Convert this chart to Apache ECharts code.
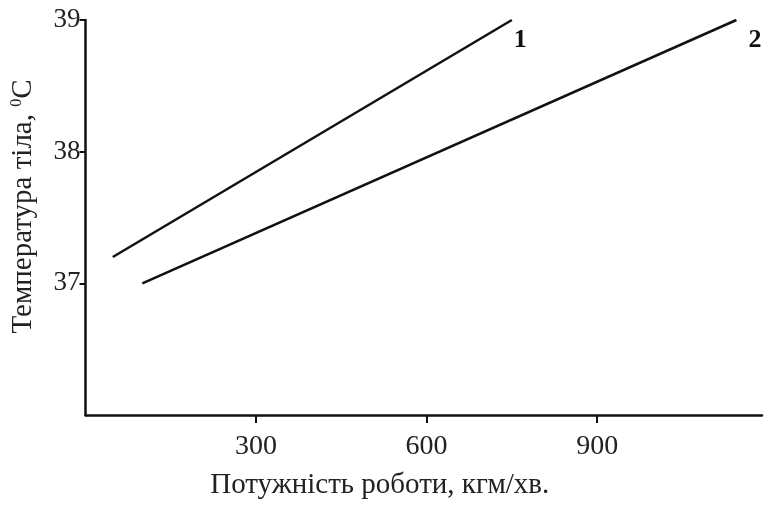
<!DOCTYPE html>
<html>
<head>
<meta charset="utf-8">
<script src="https://cdn.jsdelivr.net/npm/echarts@6/dist/echarts.min.js"></script>
<style>
html,body{margin:0;padding:0;background:#fff;}
#c{width:764px;height:505px;}
</style>
</head>
<body>
<div id="c"></div>
<script>
// Data
var line1X = [48, 750];
var line1Y = [37.2, 39.0];
var line2X = [100, 1145];
var line2Y = [37.0, 39.0];
var seriesNames = ['1', '2'];
var xTicks = [300, 600, 900];
var yTicks = [37, 38, 39];
var xTitle = 'Потужність роботи, кгм/хв.';
var yTitle = 'Температура тіла, ';

function pairs(xs, ys) { return xs.map(function (x, i) { return [x, ys[i]]; }); }

var font = 'Liberation Serif';
var chart = echarts.init(document.getElementById('c'));

function endLabel(name, dx) {
  return {
    show: true,
    formatter: name,
    fontFamily: font,
    fontWeight: 'bold',
    fontSize: 26,
    color: '#111',
    distance: 4,
    offset: [dx, 20]
  };
}

chart.setOption({
  animation: false,
  backgroundColor: '#fff',
  grid: { left: 85.5, right: 2, top: 20, bottom: 88, containLabel: false },
  xAxis: {
    type: 'value', min: 0, max: 1190,
    axisLine: { show: true, lineStyle: { color: '#111', width: 2.5 } },
    axisTick: { show: true, length: 8, lineStyle: { color: '#111', width: 2 },
      customValues: xTicks },
    axisLabel: { fontFamily: font, fontSize: 28, color: '#222', margin: 18,
      customValues: xTicks },
    splitLine: { show: false },
    name: xTitle, nameLocation: 'middle', nameGap: 56,
    nameTextStyle: { fontFamily: font, fontSize: 29, color: '#222', padding: [0, 88, 0, 0] }
  },
  yAxis: {
    type: 'value', min: 36, max: 39,
    axisLine: { show: true, lineStyle: { color: '#111', width: 2.5 } },
    axisTick: { show: true, length: 6, lineStyle: { color: '#111', width: 2 },
      customValues: yTicks },
    axisLabel: { fontFamily: font, fontSize: 27, color: '#222', margin: 5,
      customValues: yTicks },
    splitLine: { show: false },
    name: yTitle + '{s|0}С', nameLocation: 'middle', nameGap: 48,
    nameTextStyle: { fontFamily: font, fontSize: 29, color: '#222', padding: [0, 0, 0, 22],
      rich: { s: { fontFamily: font, fontSize: 16, color: '#222', verticalAlign: 'top', padding: [0, 0, 10, 0] } } }
  },
  series: [
    { name: seriesNames[0], type: 'line', data: pairs(line1X, line1Y), showSymbol: false,
      lineStyle: { color: '#111', width: 2.5 }, endLabel: endLabel(seriesNames[0], -2) },
    { name: seriesNames[1], type: 'line', data: pairs(line2X, line2Y), showSymbol: false,
      lineStyle: { color: '#111', width: 2.5 }, endLabel: endLabel(seriesNames[1], 8) }
  ]
});
</script>
</body>
</html>
